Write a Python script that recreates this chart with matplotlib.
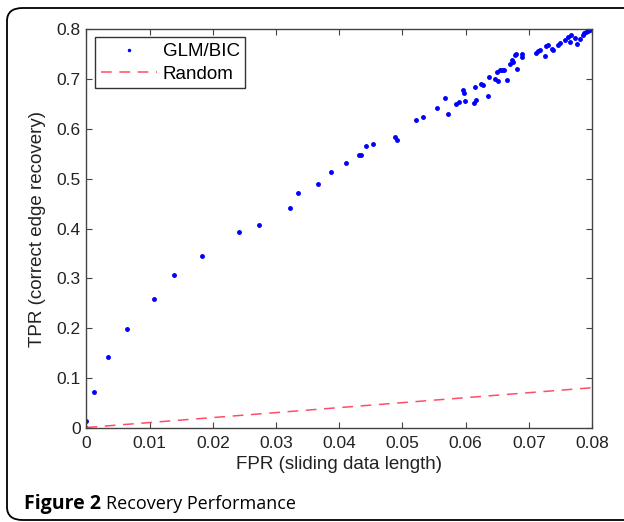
import matplotlib.pyplot as plt
from matplotlib.patches import FancyBboxPatch

plt.rcParams['font.family'] = ['Liberation Sans', 'DejaVu Sans']

# GLM/BIC points (FPR, TPR)
fpr = [0.0, 0.0, 0.00114, 0.00335, 0.00636, 0.0107, 0.0138, 0.0183, 0.0242, 0.0273,
       0.0322, 0.0335, 0.0367, 0.0387, 0.0410, 0.0431, 0.0435, 0.0443, 0.0453,
       0.0488, 0.0492, 0.0521, 0.0532, 0.0554, 0.0567, 0.0572, 0.0585, 0.0589,
       0.0599, 0.0596, 0.0598, 0.0613, 0.0616, 0.0615, 0.0624, 0.0628, 0.0636,
       0.0637, 0.0646, 0.0652, 0.0649, 0.0654, 0.0657, 0.0661, 0.0665, 0.0670,
       0.0673, 0.0675, 0.0678, 0.0680, 0.0682, 0.0689, 0.0690, 0.0712, 0.0715,
       0.0718, 0.0725, 0.0727, 0.0731, 0.0736, 0.0738, 0.0746, 0.0749, 0.0757,
       0.0762, 0.0766, 0.0765, 0.0773, 0.0776, 0.0781, 0.0785, 0.0787, 0.0790,
       0.0794, 0.0797]
tpr = [0.0, 0.013, 0.072, 0.142, 0.199, 0.259, 0.307, 0.345, 0.392, 0.408,
       0.441, 0.471, 0.490, 0.514, 0.532, 0.547, 0.548, 0.566, 0.570,
       0.584, 0.577, 0.619, 0.625, 0.643, 0.662, 0.631, 0.650, 0.654,
       0.656, 0.678, 0.672, 0.652, 0.658, 0.684, 0.690, 0.688, 0.667,
       0.704, 0.701, 0.696, 0.714, 0.718, 0.718, 0.719, 0.699, 0.731,
       0.738, 0.735, 0.748, 0.751, 0.721, 0.751, 0.745, 0.753, 0.757,
       0.759, 0.746, 0.766, 0.768, 0.761, 0.758, 0.768, 0.773, 0.778,
       0.785, 0.788, 0.775, 0.782, 0.771, 0.780, 0.788, 0.793, 0.795,
       0.797, 0.798]

# random guess line
rand_x = [0.0, 0.08]
rand_y = [0.0, 0.08]

xticks = [0, 0.01, 0.02, 0.03, 0.04, 0.05, 0.06, 0.07, 0.08]
yticks = [0, 0.1, 0.2, 0.3, 0.4, 0.5, 0.6, 0.7, 0.8]

fig = plt.figure(figsize=(6.24, 5.22), dpi=100)

# rounded frame around the figure (right side runs off the image)
frame = FancyBboxPatch((7 / 624, 2 / 522), 640 / 624, 512 / 522,
                       boxstyle='round,pad=0,rounding_size=0.025',
                       transform=fig.transFigure, fill=False,
                       edgecolor='black', linewidth=1.3)
fig.patches.append(frame)

ax = fig.add_axes([0.1386, 0.181, 0.8101, 0.7625])
ax.plot(fpr, tpr, '.', color='blue', markersize=5, label='GLM/BIC')
ax.plot(rand_x, rand_y, '--', color='#ff4d66', linewidth=1.1,
        dashes=(7, 5), label='Random')

ax.set_xlim(0, 0.08)
ax.set_ylim(0, 0.8)
ax.set_xticks(xticks)
ax.set_xticklabels(['0', '0.01', '0.02', '0.03', '0.04', '0.05', '0.06', '0.07', '0.08'])
ax.set_yticks(yticks)
ax.set_yticklabels(['0', '0.1', '0.2', '0.3', '0.4', '0.5', '0.6', '0.7', '0.8'])
ax.tick_params(direction='in', top=True, right=True, length=4, labelsize=12.5,
               color='#444444', labelcolor='#222222', pad=6)
ax.tick_params(axis='y', pad=4)
for s in ax.spines.values():
    s.set_color('#444444')
    s.set_linewidth(1.0)
ax.set_xlabel('FPR (sliding data length)', fontsize=13.5, color='#222222', labelpad=4)
ax.set_ylabel('TPR (correct edge recovery)', fontsize=13.5, color='#222222', labelpad=8)

leg = ax.legend(loc='upper left', fontsize=13.5, handlelength=3.0, handletextpad=0.3,
                borderpad=0.3, labelspacing=0.28, fancybox=False, markerscale=0.6,
                bbox_to_anchor=(0.017, 0.98), borderaxespad=0)
leg.get_frame().set_edgecolor('black')
leg.get_frame().set_linewidth(1.0)

fig.text(24 / 624, 1 - 504 / 522, 'Figure 2', fontsize=14, fontweight='bold',
         family='Open Sans', va='center', ha='left')
fig.text(106 / 624, 1 - 504 / 522, 'Recovery Performance', fontsize=13,
         family='Open Sans', va='center', ha='left')

fig.savefig('out.png', dpi=100)
